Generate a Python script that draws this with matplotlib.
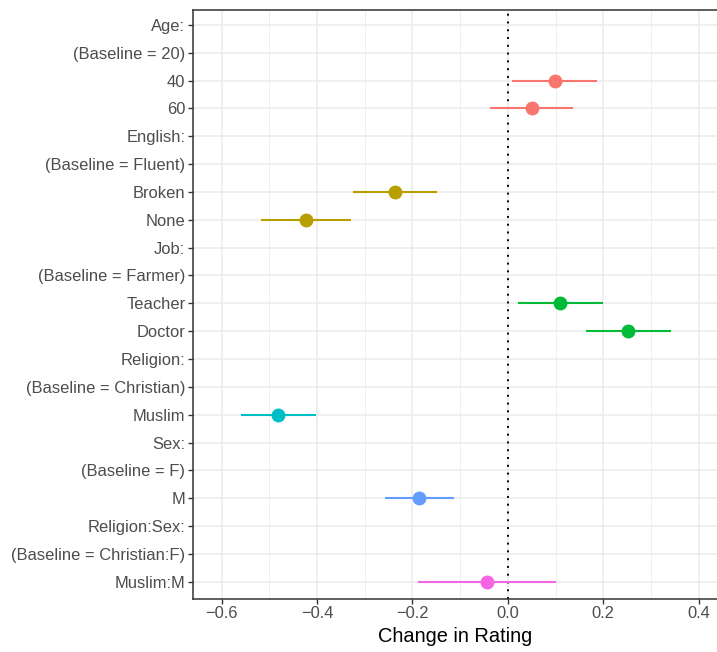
import matplotlib.pyplot as plt
from matplotlib.ticker import MultipleLocator

# Row labels from top to bottom
labels = ['Age:', '(Baseline = 20)', '40', '60',
          'English:', '(Baseline = Fluent)', 'Broken', 'None',
          'Job:', '(Baseline = Farmer)', 'Teacher', 'Doctor',
          'Religion:', '(Baseline = Christian)', 'Muslim',
          'Sex:', '(Baseline = F)', 'M',
          'Religion:Sex:', '(Baseline = Christian:F)', 'Muslim:M']

# Estimates and intervals (only rows with a coefficient)
terms = ['40', '60', 'Broken', 'None', 'Teacher', 'Doctor', 'Muslim', 'M', 'Muslim:M']
est = [0.098, 0.050, -0.237, -0.424, 0.110, 0.252, -0.481, -0.186, -0.043]
lower = [0.008, -0.037, -0.325, -0.517, 0.021, 0.163, -0.560, -0.258, -0.188]
upper = [0.187, 0.137, -0.148, -0.329, 0.199, 0.342, -0.403, -0.113, 0.101]
groups = ['Age', 'Age', 'English', 'English', 'Job', 'Job', 'Religion', 'Sex', 'Religion:Sex']

group_colors = {'Age': '#F8766D', 'English': '#B79F00', 'Job': '#00BA38',
                'Religion': '#00BFC4', 'Sex': '#619CFF', 'Religion:Sex': '#F564E3'}

plt.rcParams['font.family'] = ['Liberation Sans', 'DejaVu Sans']

fig = plt.figure(figsize=(7.17, 6.52), dpi=100)
# x range -0.66..0.44 at ~477 px per unit
ax = fig.add_axes([193 / 717, 1 - 598.5 / 652, (1.1 * 477) / 717, (598.5 - 9.5) / 652])

n = len(labels)
ypos = {lab: n - 1 - i for i, lab in enumerate(labels)}

# grid
ax.set_axisbelow(True)
ax.xaxis.set_major_locator(MultipleLocator(0.2))
ax.xaxis.set_minor_locator(MultipleLocator(0.1))
ax.grid(True, which='major', axis='both', color='#EBEBEB', linewidth=1.1)
ax.grid(True, which='minor', axis='x', color='#EBEBEB', linewidth=0.55)

ax.axvline(0, color='black', linestyle=(0, (1, 3)), linewidth=1.4, zorder=1)

for t, e, lo, hi, g in zip(terms, est, lower, upper, groups):
    y = ypos[t]
    c = group_colors[g]
    ax.hlines(y, lo, hi, color=c, linewidth=1.5, zorder=2)
    ax.plot(e, y, 'o', color=c, markersize=9, zorder=3)

ax.set_yticks([ypos[l] for l in labels])
ax.set_yticklabels(labels)
ax.set_ylim(-0.6, n - 1 + 0.55)
ax.set_xlim(-0.66, 0.44)
ax.set_xticks([-0.6, -0.4, -0.2, 0.0, 0.2, 0.4])
ax.set_xticklabels(['\u22120.6', '\u22120.4', '\u22120.2', '0.0', '0.2', '0.4'])

ax.tick_params(axis='both', which='major', labelsize=11.9, labelcolor='#4D4D4D',
               color='#333333', length=3.5, width=1.0, pad=2)
ax.tick_params(axis='x', which='minor', length=0)
for s in ['left', 'bottom', 'top']:
    ax.spines[s].set_color('#333333')
    ax.spines[s].set_linewidth(1.1)
ax.spines['right'].set_visible(False)

ax.set_xlabel('Change in Rating', fontsize=14.4, color='black', labelpad=4.5)

fig.savefig('out.png', dpi=100)
